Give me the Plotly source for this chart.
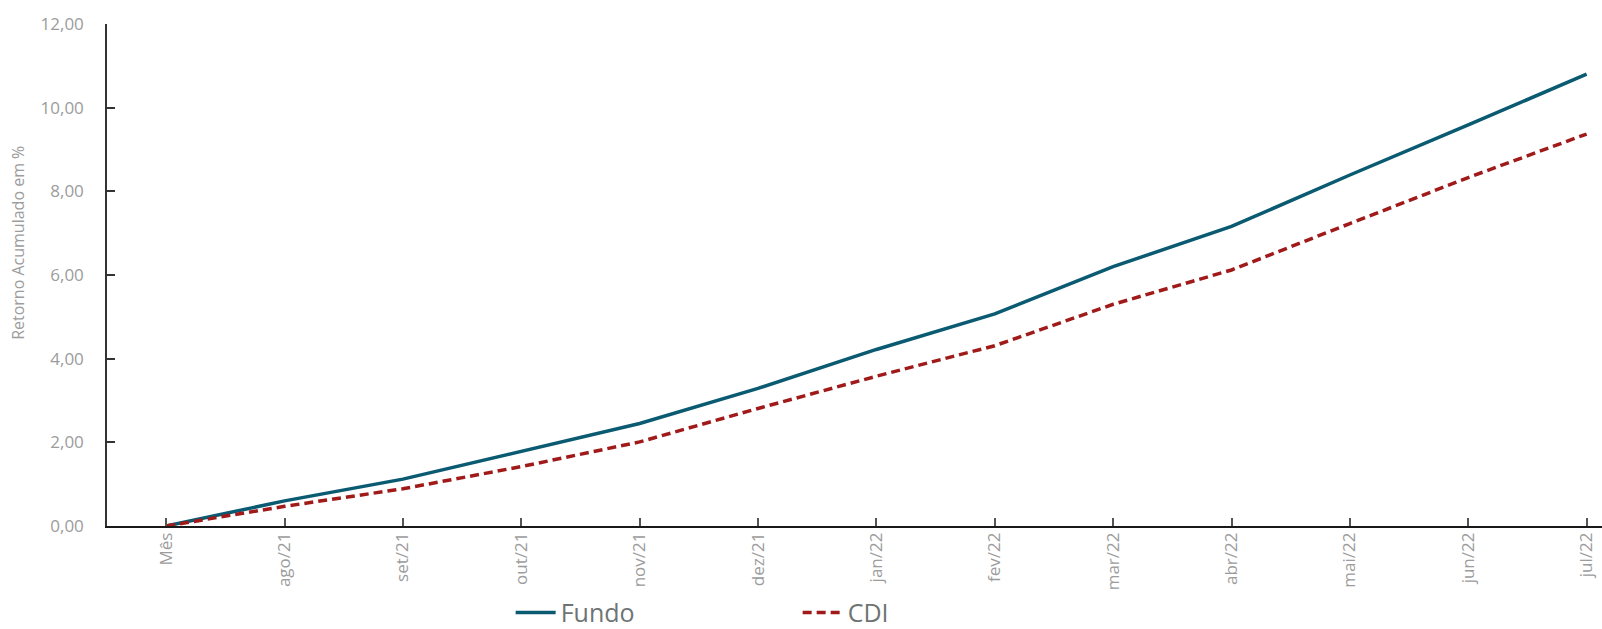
import plotly.graph_objects as go

# Monthly accumulated return (%) of the fund vs. CDI benchmark
meses = ["Mês", "ago/21", "set/21", "out/21", "nov/21", "dez/21", "jan/22",
         "fev/22", "mar/22", "abr/22", "mai/22", "jun/22", "jul/22"]
fundo = [0.00, 0.60, 1.12, 1.78, 2.45, 3.29, 4.22, 5.07, 6.20, 7.16, 8.39, 9.59, 10.80]
cdi = [0.00, 0.47, 0.89, 1.42, 2.01, 2.81, 3.58, 4.31, 5.30, 6.12, 7.23, 8.33, 9.37]

y_ticks = [0, 2, 4, 6, 8, 10, 12]
y_tick_text = ["0,00", "2,00", "4,00", "6,00", "8,00", "10,00", "12,00"]

FONT = "Open Sans"
GRAY = "#9c9c9c"

fig = go.Figure()
fig.add_trace(go.Scatter(
    x=meses, y=fundo, name="Fundo", mode="lines",
    line=dict(color="#0a5a72", width=3.5),
))
fig.add_trace(go.Scatter(
    x=meses, y=cdi, name="CDI", mode="lines",
    line=dict(color="#a01a1a", width=3.5, dash="9px,5px"),
))

fig.update_layout(
    width=1602, height=629,
    margin=dict(l=107, r=0, t=24, b=103, autoexpand=False),
    plot_bgcolor="white", paper_bgcolor="white",
    font=dict(family=FONT, color=GRAY),
    showlegend=True,
    legend=dict(
        orientation="h", x=0.27, y=-0.127, xanchor="left", yanchor="top",
        font=dict(family=FONT, size=25, color="#6e7474"),
        entrywidth=232, entrywidthmode="pixels",
        itemwidth=40,
    ),
    xaxis=dict(
        type="category", range=[-0.5, 12.13],
        showline=True, linecolor="#1a1a1a", linewidth=1.5,
        ticks="inside", ticklen=8, tickcolor="#555555", tickwidth=1.5,
        tickangle=-90, tickfont=dict(family=FONT, size=17, color=GRAY),
        ticklabelstandoff=-2,
        showgrid=False, zeroline=False,
    ),
    yaxis=dict(
        range=[0, 12], tickvals=y_ticks, ticktext=y_tick_text,
        showline=True, linecolor="#333333", linewidth=1.5,
        ticks="inside", ticklen=8, tickcolor="#333333", tickwidth=1.5,
        tickfont=dict(family=FONT, size=17, color=GRAY),
        ticklabelstandoff=18,
        showgrid=False, zeroline=False,
    ),
    annotations=[dict(
        text="Retorno Acumulado em %", xref="paper", yref="paper",
        x=(18 - 107) / 1495, y=0.564, xanchor="center", yanchor="middle",
        textangle=-90, showarrow=False,
        font=dict(family=FONT, size=16, color=GRAY),
    )],
)

fig.write_html("out.html")
